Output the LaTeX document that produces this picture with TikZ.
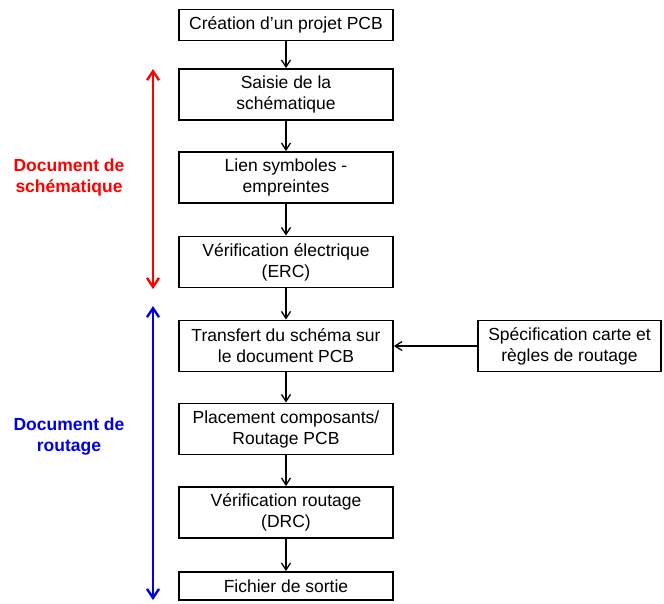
\documentclass[tikz,border=0pt]{standalone}
\usepackage{fontspec}
\setmainfont{Liberation Sans}
\usetikzlibrary{arrows.meta}
\definecolor{myred}{RGB}{255,0,0}
\definecolor{myblue}{RGB}{0,0,230}
\begin{document}
\begin{tikzpicture}[x=1pt,y=-1pt,
  every node/.style={font=\fontsize{17.5}{21}\selectfont},
  box/.style={draw=black,line width=1.8pt,minimum width=214pt,minimum height=51pt,align=center,inner sep=0pt},
  sbox/.style={box,minimum height=31pt},
  link/.style={-{Straight Barb[length=7pt,width=9pt,line width=1.3pt]},line width=1.3pt},
  span/.style={{Straight Barb[length=9pt,width=12pt,line width=2.4pt]}-{Straight Barb[length=9pt,width=12pt,line width=2.4pt]},line width=2.4pt},
  lab/.style={font=\bfseries\fontsize{17.5}{21}\selectfont,align=center}]
\useasboundingbox (0,0) rectangle (664,603);
\node[sbox] (b1) at (286,25) {Création d’un projet PCB};
\node[box] (b2) at (286,94.5) {Saisie de la\\schématique};
\node[box] (b3) at (286,177.5) {Lien symboles -\\empreintes};
\node[box] (b4) at (286,262) {Vérification électrique\\(ERC)};
\node[box] (b5) at (286,346) {Transfert du schéma sur\\le document PCB};
\node[box] (b6) at (286,429) {Placement composants/\\Routage PCB};
\node[box] (b7) at (286,512.5) {Vérification routage\\(DRC)};
\node[box,minimum height=28pt] (b8) at (286,586) {Fichier de sortie};
\node[box,minimum width=183pt] (spec) at (569.5,346) {Spécification carte et\\règles de routage};
\draw[link] (b1) -- (b2);
\draw[link] (b2) -- (b3);
\draw[link] (b3) -- (b4);
\draw[link] (b4) -- (b5);
\draw[link] (b5) -- (b6);
\draw[link] (b6) -- (b7);
\draw[link] (b7) -- (b8);
\draw[link] (spec) -- (b5);
\coordinate (rt) at (153,69);
\coordinate (rb) at (153,289);
\coordinate (bt) at (153,306);
\coordinate (bb) at (153,600);
\draw[span,myred] (rt) -- (rb);
\draw[span,myblue] (bt) -- (bb);
\node[lab,text=myred] (ls) at (69,177) {Document de\\schématique};
\node[lab,text=myblue] (lr) at (69,436.5) {Document de\\routage};
\end{tikzpicture}
\end{document}
